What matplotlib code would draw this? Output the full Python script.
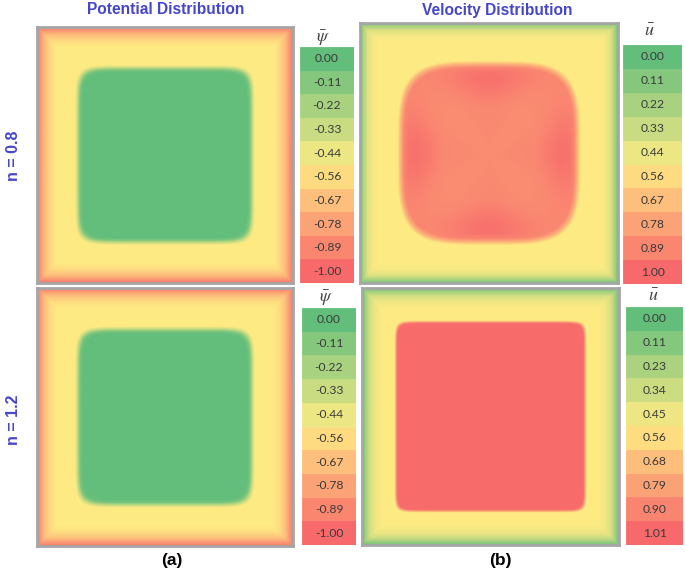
import numpy as np
import matplotlib
matplotlib.use("Agg")
import matplotlib.pyplot as plt
from matplotlib.colors import LinearSegmentedColormap, Normalize

# ---------------- data ----------------
titles = ["Potential Distribution", "Velocity Distribution"]
row_labels = ["n = 0.8", "n = 1.2"]
panel_tags = ["(a)", "(b)"]

psi_levels_n08 = [0.00, -0.11, -0.22, -0.33, -0.44, -0.56, -0.67, -0.78, -0.89, -1.00]
psi_levels_n12 = [0.00, -0.11, -0.22, -0.33, -0.44, -0.56, -0.67, -0.78, -0.89, -1.00]
u_levels_n08 = [0.00, 0.11, 0.22, 0.33, 0.44, 0.56, 0.67, 0.78, 0.89, 1.00]
u_levels_n12 = [0.00, 0.11, 0.23, 0.34, 0.45, 0.56, 0.68, 0.79, 0.90, 1.01]

# near-wall profiles (distance from wall as fraction of side)
wall_dist_psi = [0.0, 0.012, 0.03, 0.055, 0.08, 0.5]
psi_wall_n08 = [-0.96, -0.84, -0.68, -0.56, -0.50, -0.50]
psi_wall_n12 = [-0.95, -0.83, -0.67, -0.55, -0.50, -0.50]
wall_dist_u = [0.0, 0.012, 0.03, 0.05, 0.08, 0.5]
u_wall_n08 = [0.04, 0.22, 0.40, 0.47, 0.50, 0.50]
u_wall_n12 = [0.03, 0.18, 0.36, 0.45, 0.50, 0.50]

# core profiles (rounded-square distance from wall)
core_dist_psi = [0.0, 0.148, 0.158, 0.168, 0.178, 0.5]
psi_core_n08 = [0.0, 0.0, 0.18, 0.42, 0.50, 0.50]
psi_core_n12 = [0.0, 0.0, 0.18, 0.42, 0.50, 0.50]

core_dist_u08 = [0.0, 0.145, 0.158, 0.172, 0.19, 0.22, 0.26, 0.32, 0.5]
u_core_n08_edge = [0.0, 0.0, 0.22, 0.40, 0.46, 0.47, 0.44, 0.38, 0.36]
u_core_n08_diag = [0.0, 0.0, 0.22, 0.38, 0.38, 0.38, 0.37, 0.36, 0.36]

core_dist_u12 = [0.0, 0.126, 0.132, 0.138, 0.5]
u_core_n12 = [0.0, 0.0, 0.28, 0.50, 0.50]

# ---------------- styling ----------------
W, H = 685, 570
fig = plt.figure(figsize=(W / 100, H / 100), dpi=100)
plt.rcParams["mathtext.fontset"] = "stix"

cmap = LinearSegmentedColormap.from_list("gyr", ["#63BE7B", "#FFEB84", "#F8696B"])
cmap_psi = cmap.reversed()
blue = "#4646C8"
txt_col = "#3a3a3a"
border_col = "#A6A6A6"


def box(x0, y0, x1, y1):
    return [x0 / W, 1 - y1 / H, (x1 - x0) / W, (y1 - y0) / H]


N = 400
g = (np.arange(N) + 0.5) / N
X, Y = np.meshgrid(g, g)
D = np.minimum.reduce([X, 1 - X, Y, 1 - Y])
TH = np.arctan2(Y - 0.5, X - 0.5)


def rounded_dist(p):
    r = (np.abs(X - 0.5) ** p + np.abs(Y - 0.5) ** p) ** (1.0 / p)
    return 0.5 - r


S10 = rounded_dist(10)
S4 = rounded_dist(4)
S20 = rounded_dist(20)
wgt = np.cos(2 * TH) ** 2

psi08 = np.interp(D, wall_dist_psi, psi_wall_n08) + np.interp(S10, core_dist_psi, psi_core_n08)
psi12 = np.interp(D, wall_dist_psi, psi_wall_n12) + np.interp(S10, core_dist_psi, psi_core_n12)
u08 = (np.interp(D, wall_dist_u, u_wall_n08)
       + wgt * np.interp(S4, core_dist_u08, u_core_n08_edge)
       + (1 - wgt) * np.interp(S4, core_dist_u08, u_core_n08_diag))
u12 = np.interp(D, wall_dist_u, u_wall_n12) + np.interp(S20, core_dist_u12, u_core_n12)

panels = [
    ((37, 27, 293, 283), psi08, cmap_psi, -1.0, 0.0),
    ((360, 23, 618, 283), u08, cmap, 0.0, 1.0),
    ((37, 288, 293, 546), psi12, cmap_psi, -1.0, 0.0),
    ((362, 288, 619, 545), u12, cmap, 0.0, 1.01),
]
for bx, field, cm, vmin, vmax in panels:
    ax = fig.add_axes(box(*bx))
    ax.imshow(field, cmap=cm, vmin=vmin, vmax=vmax, extent=[0, 1, 0, 1],
              origin="lower", interpolation="bilinear", aspect="auto")
    ax.set_xticks([])
    ax.set_yticks([])
    for sp in ax.spines.values():
        sp.set_color(border_col)
        sp.set_linewidth(2.0)

tables = [
    ((300, 47, 354, 283), psi_levels_n08, cmap_psi, -1.0, 0.0, r"$\bar{\psi}$", (323, 38)),
    ((623, 45, 682, 284), u_levels_n08, cmap, 0.0, 1.0, r"$\bar{u}$", (649, 31)),
    ((302, 308, 356, 545), psi_levels_n12, cmap_psi, -1.0, 0.0, r"$\bar{\psi}$", (326, 298)),
    ((626, 307, 683, 545), u_levels_n12, cmap, 0.0, 1.01, r"$\bar{u}$", (653, 296)),
]
for bx, levels, cm, vmin, vmax, sym, (sx, sy) in tables:
    ax = fig.add_axes(box(*bx))
    norm = Normalize(vmin=vmin, vmax=vmax)
    cols = [cm(norm(v)) for v in levels]
    ax.barh(np.arange(len(levels)), 1.0, height=1.0, left=0, color=cols,
            edgecolor=cols, linewidth=0.6)
    for i, v in enumerate(levels):
        ax.text(0.5, i, f"{v:.2f}", ha="center", va="center", fontsize=8.7,
                family=["Lato", "DejaVu Sans"], color=txt_col)
    ax.set_xlim(0, 1)
    ax.set_ylim(len(levels) - 0.5, -0.5)
    ax.axis("off")
    fig.text(sx / W, 1 - sy / H, sym, ha="center", va="center", fontsize=13, color="#444444")

for t, cx in zip(titles, [166, 497]):
    fig.text(cx / W, 1 - 10 / H, t, ha="center", va="center", fontsize=11.2,
             fontweight="bold", family="Liberation Sans", color=blue)

for lab, cy in zip(row_labels, [156, 420]):
    fig.text(13 / W, 1 - cy / H, lab, ha="center", va="center", rotation=90,
             fontsize=11.5, fontweight="bold", family="Liberation Sans", color=blue)

for tag, cx in zip(panel_tags, [172, 500]):
    fig.text(cx / W, 1 - 561 / H, tag, ha="center", va="center", fontsize=12.5,
             fontweight="bold", family="Liberation Sans", color="black")

fig.savefig("out.png", dpi=100, facecolor="white")
